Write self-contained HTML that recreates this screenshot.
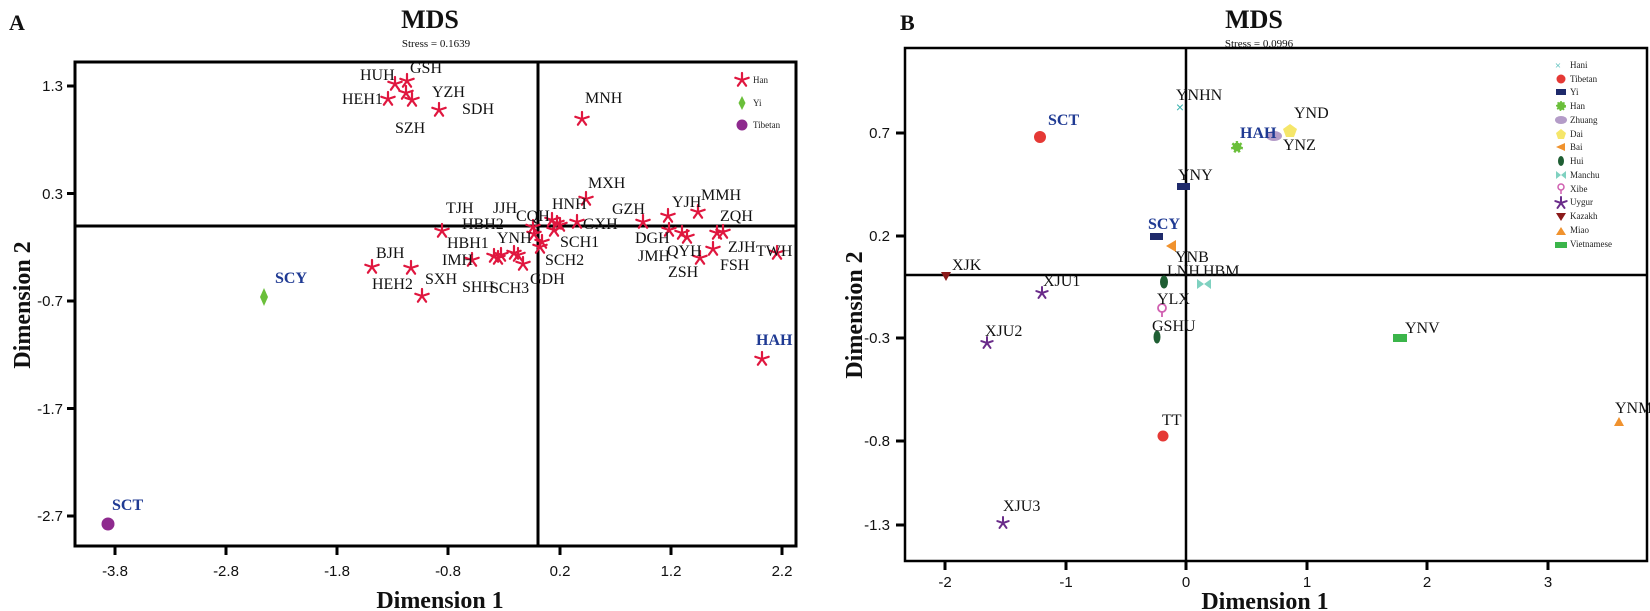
<!DOCTYPE html>
<html><head><meta charset="utf-8"><style>
html,body{margin:0;padding:0;background:#fff;}
svg{display:block;}
.t{font-family:"Liberation Serif",serif;font-size:16px;fill:#111;}
.tk{font-family:"Liberation Sans",sans-serif;font-size:15px;fill:#111;}
.ttl{font-family:"Liberation Serif",serif;font-weight:bold;font-size:26px;fill:#111;}
.ax{font-family:"Liberation Serif",serif;font-weight:bold;font-size:24px;fill:#111;}
.st{font-family:"Liberation Serif",serif;font-size:11px;fill:#111;}
.bl{font-family:"Liberation Serif",serif;font-weight:bold;font-size:16px;fill:#1f3a93;}
.lg{font-family:"Liberation Serif",serif;font-size:9px;fill:#222;}
</style></head><body>
<svg width="1650" height="611" viewBox="0 0 1650 611" xmlns="http://www.w3.org/2000/svg">
<defs>
<path id="star" d="M0,-7L0,0M0,0L6.7,-2.2M0,0L4.1,5.7M0,0L-4.1,5.7M0,0L-6.7,-2.2" stroke="#e0173f" stroke-width="2.2" fill="none" stroke-linecap="round"/>
<path id="pstar" d="M0,-6L0,0M0,0L5.7,-1.9M0,0L3.5,4.9M0,0L-3.5,4.9M0,0L-5.7,-1.9" stroke="#6a2c8a" stroke-width="2" fill="none" stroke-linecap="round"/>
</defs>

<!-- ============ PANEL A ============ -->
<text x="9" y="30" class="ax" style="font-size:22px">A</text>
<text x="430" y="28" class="ttl" text-anchor="middle">MDS</text>
<text x="436" y="47" class="st" text-anchor="middle">Stress = 0.1639</text>
<rect x="75" y="62" width="721" height="484" fill="none" stroke="#000" stroke-width="3"/>
<line x1="538" y1="62" x2="538" y2="546" stroke="#000" stroke-width="3"/>
<line x1="75" y1="226" x2="796" y2="226" stroke="#000" stroke-width="3"/>
<g stroke="#000" stroke-width="3">
<line x1="67" y1="86" x2="75" y2="86"/><line x1="67" y1="193.5" x2="75" y2="193.5"/><line x1="67" y1="301" x2="75" y2="301"/><line x1="67" y1="408.5" x2="75" y2="408.5"/><line x1="67" y1="516" x2="75" y2="516"/>
<line x1="115" y1="546" x2="115" y2="555"/><line x1="226" y1="546" x2="226" y2="555"/><line x1="337" y1="546" x2="337" y2="555"/><line x1="448" y1="546" x2="448" y2="555"/><line x1="560" y1="546" x2="560" y2="555"/><line x1="671" y1="546" x2="671" y2="555"/><line x1="782" y1="546" x2="782" y2="555"/>
</g>
<g class="tk" text-anchor="end">
<text x="63" y="91">1.3</text><text x="63" y="199">0.3</text><text x="63" y="306">-0.7</text><text x="63" y="414">-1.7</text><text x="63" y="521">-2.7</text>
</g>
<g class="tk" text-anchor="middle">
<text x="115" y="576">-3.8</text><text x="226" y="576">-2.8</text><text x="337" y="576">-1.8</text><text x="448" y="576">-0.8</text><text x="560" y="576">0.2</text><text x="671" y="576">1.2</text><text x="782" y="576">2.2</text>
</g>
<text x="440" y="608" class="ax" text-anchor="middle">Dimension 1</text>
<text transform="translate(30,305) rotate(-90)" class="ax" text-anchor="middle">Dimension 2</text>
<use href="#star" x="742" y="80"/><text x="753" y="83" class="lg">Han</text>
<path d="M742,96 L745.5,103 L742,110 L738.5,103Z" fill="#6abf3a"/><text x="753" y="106" class="lg">Yi</text>
<circle cx="742" cy="125" r="5.5" fill="#8e2a8e"/><text x="753" y="128" class="lg">Tibetan</text>
<g>
<use href="#star" x="395" y="84"/><use href="#star" x="407" y="81"/><use href="#star" x="406" y="93"/><use href="#star" x="388" y="99"/><use href="#star" x="412" y="100"/><use href="#star" x="439" y="110"/><use href="#star" x="582" y="119"/>
<use href="#star" x="372" y="267"/><use href="#star" x="411" y="268"/><use href="#star" x="422" y="296"/><use href="#star" x="442" y="231"/><use href="#star" x="472" y="260"/>
<use href="#star" x="494" y="256"/><use href="#star" x="498" y="258"/><use href="#star" x="501" y="255"/><use href="#star" x="514" y="253"/><use href="#star" x="518" y="255"/><use href="#star" x="523" y="264"/>
<use href="#star" x="533" y="227"/><use href="#star" x="534" y="234"/><use href="#star" x="542" y="242"/><use href="#star" x="540" y="247"/>
<use href="#star" x="552" y="220"/><use href="#star" x="557" y="223"/><use href="#star" x="560" y="225"/><use href="#star" x="554" y="230"/><use href="#star" x="577" y="222"/><use href="#star" x="586" y="199"/>
<use href="#star" x="643" y="222"/><use href="#star" x="668" y="216"/><use href="#star" x="669" y="230"/><use href="#star" x="682" y="233"/><use href="#star" x="687" y="237"/><use href="#star" x="698" y="212"/>
<use href="#star" x="700" y="258"/><use href="#star" x="713" y="249"/><use href="#star" x="717" y="233"/><use href="#star" x="723" y="232"/><use href="#star" x="777" y="253"/><use href="#star" x="762" y="359"/>
</g>
<path d="M264,288 L268,297 L264,306 L260,297Z" fill="#6abf3a"/>
<circle cx="108" cy="524" r="6.5" fill="#8e2a8e"/>
<g class="t">
<text x="360" y="80">HUH</text><text x="410" y="73">GSH</text><text x="342" y="104">HEH1</text><text x="432" y="97">YZH</text><text x="462" y="114">SDH</text><text x="395" y="133">SZH</text><text x="585" y="103">MNH</text>
<text x="588" y="188">MXH</text><text x="446" y="213">TJH</text><text x="493" y="213">JJH</text><text x="516" y="221">CQH</text><text x="552" y="209">HNH</text><text x="612" y="214">GZH</text><text x="672" y="207">YJH</text><text x="701" y="200">MMH</text><text x="720" y="221">ZQH</text>
<text x="462" y="229">HBH2</text><text x="447" y="248">HBH1</text><text x="497" y="243">YNH</text><text x="560" y="247">SCH1</text><text x="583" y="229">GXH</text><text x="635" y="243">DGH</text><text x="756" y="256">TWH</text>
<text x="376" y="258">BJH</text><text x="442" y="265">IMH</text><text x="545" y="265">SCH2</text><text x="638" y="261">JMH</text><text x="667" y="256">QYH</text><text x="728" y="252">ZJH</text><text x="720" y="270">FSH</text><text x="668" y="277">ZSH</text>
<text x="372" y="289">HEH2</text><text x="425" y="284">SXH</text><text x="462" y="292">SHH</text><text x="490" y="293">SCH3</text><text x="530" y="284">GDH</text>
</g>
<text x="275" y="283" class="bl">SCY</text>
<text x="756" y="345" class="bl">HAH</text>
<text x="112" y="510" class="bl">SCT</text>

<!-- ============ PANEL B ============ -->
<text x="900" y="30" class="ax" style="font-size:22px">B</text>
<text x="1254" y="28" class="ttl" text-anchor="middle">MDS</text>
<text x="1259" y="47" class="st" text-anchor="middle">Stress = 0.0996</text>
<rect x="905" y="48" width="742" height="513" fill="none" stroke="#000" stroke-width="2.5"/>
<line x1="1186" y1="48" x2="1186" y2="561" stroke="#000" stroke-width="2.5"/>
<line x1="905" y1="275" x2="1647" y2="275" stroke="#000" stroke-width="2.5"/>
<g stroke="#000" stroke-width="3">
<line x1="896" y1="133" x2="905" y2="133"/><line x1="896" y1="236" x2="905" y2="236"/><line x1="896" y1="338" x2="905" y2="338"/><line x1="896" y1="441" x2="905" y2="441"/><line x1="896" y1="525" x2="905" y2="525"/>
<line x1="945" y1="561" x2="945" y2="570"/><line x1="1066" y1="561" x2="1066" y2="570"/><line x1="1186" y1="561" x2="1186" y2="570"/><line x1="1307" y1="561" x2="1307" y2="570"/><line x1="1427" y1="561" x2="1427" y2="570"/><line x1="1548" y1="561" x2="1548" y2="570"/>
</g>
<g class="tk" text-anchor="end">
<text x="890" y="138">0.7</text><text x="890" y="241">0.2</text><text x="890" y="343">-0.3</text><text x="890" y="446">-0.8</text><text x="890" y="530">-1.3</text>
</g>
<g class="tk" text-anchor="middle">
<text x="945" y="587">-2</text><text x="1066" y="587">-1</text><text x="1186" y="587">0</text><text x="1307" y="587">1</text><text x="1427" y="587">2</text><text x="1548" y="587">3</text>
</g>
<text x="1265" y="609" class="ax" text-anchor="middle">Dimension 1</text>
<text transform="translate(862,315) rotate(-90)" class="ax" text-anchor="middle">Dimension 2</text>
<g class="lg" transform="translate(-33,0)">
<text x="1591" y="69" fill="#3bb3b0" font-size="11" text-anchor="middle">×</text><text x="1603" y="68">Hani</text>
<circle cx="1594" cy="79" r="4.5" fill="#e53935"/><text x="1603" y="82">Tibetan</text>
<rect x="1589" y="89" width="10" height="6" fill="#1f2a6b"/><text x="1603" y="95">Yi</text>
<circle cx="1594" cy="106" r="4" fill="#6abf3a" stroke="#6abf3a" stroke-width="2" stroke-dasharray="1.5 1.5"/><text x="1603" y="109">Han</text>
<ellipse cx="1594" cy="120" rx="6" ry="4" fill="#b49cc8"/><text x="1603" y="123">Zhuang</text>
<path d="M1594,129 L1599,133 L1597,139 L1591,139 L1589,133Z" fill="#f5e66a"/><text x="1603" y="137">Dai</text>
<path d="M1589,147 L1598,143 L1598,151Z" fill="#f0922e"/><text x="1603" y="150">Bai</text>
<ellipse cx="1594" cy="161" rx="3" ry="5" fill="#1f5e33"/><text x="1603" y="164">Hui</text>
<path d="M1589,171 L1594,175 L1589,179Z M1599,171 L1594,175 L1599,179Z" fill="#7fd1c0"/><text x="1603" y="178">Manchu</text>
<circle cx="1594" cy="187" r="3" fill="none" stroke="#d05fb0" stroke-width="1.5"/><line x1="1594" y1="190" x2="1594" y2="194" stroke="#d05fb0" stroke-width="1.5"/><text x="1603" y="192">Xibe</text>
<use href="#pstar" x="1594" y="203"/><text x="1603" y="205">Uygur</text>
<path d="M1589,213 L1599,213 L1594,221Z" fill="#8b1a1a"/><text x="1603" y="219">Kazakh</text>
<path d="M1589,235 L1599,235 L1594,227Z" fill="#f0922e"/><text x="1603" y="233">Miao</text>
<rect x="1588" y="242" width="12" height="6" fill="#3bb54a"/><text x="1603" y="247">Vietnamese</text>
</g>
<text x="1180" y="112" fill="#3bb3b0" font-size="14" font-family="Liberation Sans,sans-serif" text-anchor="middle">×</text>
<circle cx="1040" cy="137" r="6" fill="#e53935"/>
<path d="M1290,124 L1297,129 L1294,137 L1286,137 L1283,129Z" fill="#f5e66a"/>
<ellipse cx="1274" cy="136" rx="8" ry="5" fill="#b49cc8"/>
<circle cx="1237" cy="147" r="4.5" fill="#6abf3a" stroke="#6abf3a" stroke-width="3" stroke-dasharray="2 2"/>
<rect x="1177" y="183" width="13" height="7" fill="#1f2a6b"/>
<rect x="1150" y="233" width="13" height="7" fill="#1f2a6b"/>
<path d="M1166,246 L1176,240 L1176,252Z" fill="#f0922e"/>
<ellipse cx="1164" cy="282" rx="4" ry="6.5" fill="#1f5e33"/>
<path d="M1197,279 L1204,284 L1197,289Z M1211,279 L1204,284 L1211,289Z" fill="#7fd1c0"/>
<circle cx="1162" cy="308" r="4" fill="none" stroke="#d05fb0" stroke-width="1.8"/><line x1="1162" y1="312" x2="1162" y2="317" stroke="#d05fb0" stroke-width="1.8"/>
<ellipse cx="1157" cy="337" rx="3.5" ry="6.5" fill="#1f5e33"/>
<use href="#pstar" x="1042" y="293"/>
<path d="M941,272 L951,272 L946,281Z" fill="#8b1a1a"/>
<use href="#pstar" x="987" y="343"/>
<use href="#pstar" x="1003" y="523"/>
<rect x="1393" y="334" width="14" height="8" fill="#3bb54a"/>
<circle cx="1163" cy="436" r="5.5" fill="#e53935"/>
<path d="M1614,426 L1624,426 L1619,417Z" fill="#f0922e"/>
<g class="t">
<text x="1176" y="100">YNHN</text><text x="1294" y="118">YND</text><text x="1283" y="150">YNZ</text><text x="1178" y="180">YNY</text>
<text x="1175" y="262">YNB</text><text x="1167" y="276">LNH</text><text x="1203" y="276">HBM</text><text x="1157" y="304">YLX</text><text x="1152" y="331">GSHU</text>
<text x="1043" y="286">XJU1</text><text x="952" y="270">XJK</text><text x="985" y="336">XJU2</text><text x="1003" y="511">XJU3</text>
<text x="1405" y="333">YNV</text><text x="1162" y="425">TT</text><text x="1615" y="413">YNM</text>
</g>
<text x="1048" y="125" class="bl">SCT</text>
<text x="1240" y="138" class="bl">HAH</text>
<text x="1148" y="229" class="bl">SCY</text>
</svg>
</body></html>
